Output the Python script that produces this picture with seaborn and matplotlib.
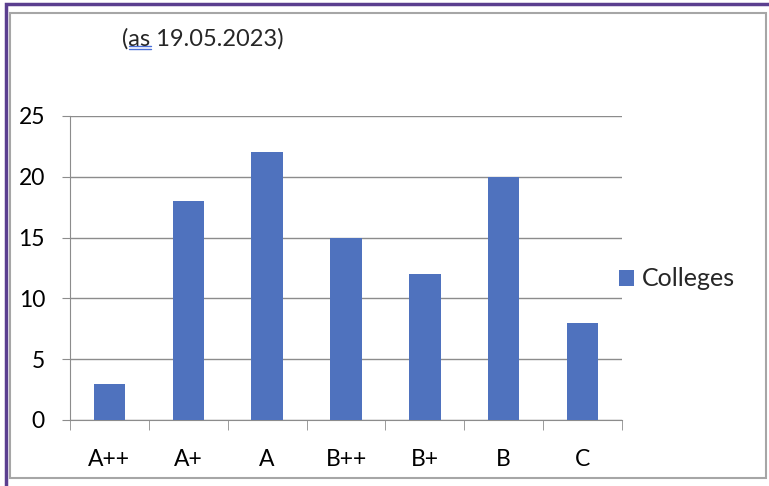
import matplotlib
matplotlib.use("Agg")
import matplotlib.pyplot as plt
from matplotlib.patches import Rectangle
from matplotlib.lines import Line2D
import seaborn as sns
import pandas as pd
import numpy as np

grades = ["A++", "A+", "A", "B++", "B+", "B", "C"]
colleges = [3, 18, 22, 15, 12, 20, 8]
yticks = [0, 5, 10, 15, 20, 25]

sns.set_style("white")
plt.rcParams['font.family'] = ['Lato', 'DejaVu Sans']

df = pd.DataFrame({"grade": grades, "Colleges": colleges})

fig = plt.figure(figsize=(7.69, 4.86), dpi=100)
ax = fig.add_axes([70/769, 1-420/486, 552/769, 304/486])

sns.barplot(data=df, x="grade", y="Colleges", color="#4F72BE", width=0.4,
            saturation=1, ax=ax, label="Colleges", zorder=3, linewidth=0)

ax.set_ylim(0, 25)
ax.set_xlim(-0.5, 6.5)
ax.set_yticks(yticks)
ax.yaxis.grid(True, color="#8c8c8c", linewidth=1)
ax.set_axisbelow(True)
ax.set_xlabel("")
ax.set_ylabel("")
for s in ["top", "right"]:
    ax.spines[s].set_visible(False)
ax.spines["left"].set_color("#8c8c8c")
ax.spines["bottom"].set_color("#8c8c8c")
ax.tick_params(axis="y", length=6, color="#8c8c8c", left=True, labelsize=16.5, pad=12,
               labelcolor="black")
ax.tick_params(axis="x", which="major", length=0, labelsize=16.5, pad=21, labelcolor="black")
ax.set_xticks(np.arange(-0.5, 7, 1), minor=True)
ax.tick_params(axis="x", which="minor", length=7, color="#8c8c8c", bottom=True, direction="out")

leg = ax.legend(loc="center left", bbox_to_anchor=(619/769, 1-279/486),
                bbox_transform=fig.transFigure, frameon=False, borderpad=0, borderaxespad=0,
                fontsize=18, handlelength=0.6, handleheight=0.6, handletextpad=0.3)

# title text with spell-check underline
fig.text(122/769, 1-39/486, "(as 19.05.2023)", fontsize=17, va="center", ha="left")
for yy in (46, 49):
    fig.add_artist(Line2D([129/769, 151/769], [1-yy/486, 1-yy/486], color="#4a6fd8", lw=1))

# borders
fig.add_artist(Rectangle((6/769, -0.1), 2, 1-4/486+0.1, transform=fig.transFigure,
                         fill=False, edgecolor="#5b3f8f", lw=2.5))
fig.add_artist(Rectangle((10/769, 1-478/486), 756/769, 465/486, transform=fig.transFigure,
                         fill=False, edgecolor="#a6a6a6", lw=1.5))

fig.savefig("out.png", dpi=100)
